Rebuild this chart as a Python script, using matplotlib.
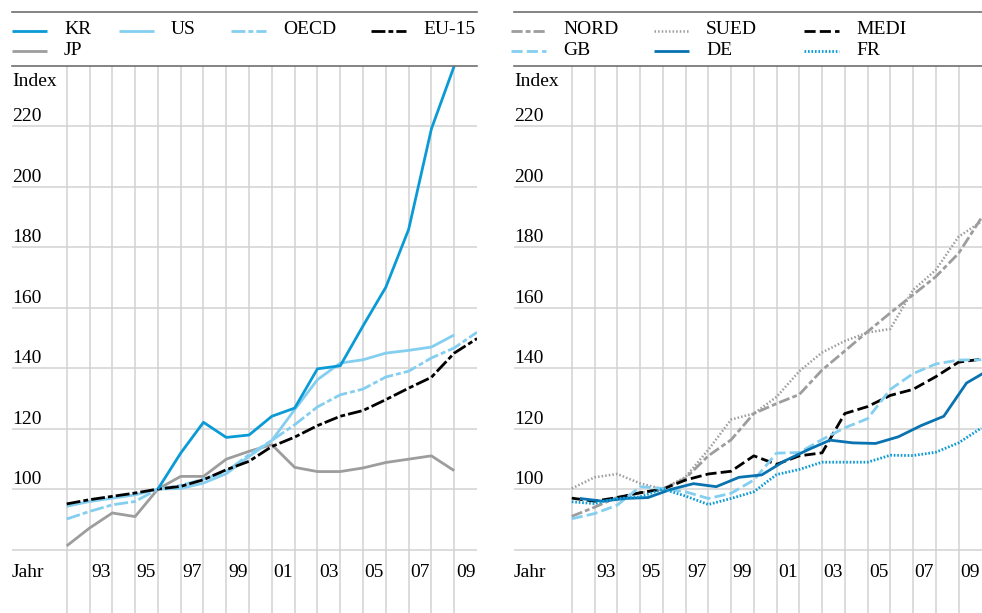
import numpy as np
import matplotlib
matplotlib.use("Agg")
import matplotlib.pyplot as plt
from matplotlib import transforms

plt.rcParams["font.family"] = ["Liberation Serif", "DejaVu Serif"]
plt.rcParams["font.size"] = 14
plt.rcParams["lines.scale_dashes"] = False

nan = np.nan
years = list(range(1991, 2010))
year_labels = [1993, 1995, 1997, 1999, 2001, 2003, 2005, 2007, 2009]
y_labels = [100, 120, 140, 160, 180, 200, 220]

# left panel
kr = [nan, nan, nan, nan, 100, 111.9, 122.1, 117.1, 117.9, 124.1, 126.8, 139.8,
      140.8, 154.0, 166.8, 185.9, 219.2, 240.0, nan]
us = [94.3, 95.9, 97.0, 98.1, 100, 100.2, 102.0, 105.1, 110.8, 116.1, 126.3, 136.2,
      141.7, 142.8, 145.0, 145.9, 147.0, 151.0, nan]
oecd = [90.1, 92.6, 94.8, 95.9, 100, 101.2, 103.3, 105.8, 111.4, 116.1, 121.3, 127.2,
        131.2, 133.1, 137.1, 139.0, 143.4, 146.7, 151.9]
eu15 = [95.1, 96.5, 97.6, 98.7, 100, 100.9, 103.1, 106.4, 109.2, 114.1, 117.2, 121.0,
        124.1, 126.0, 129.6, 133.4, 137.0, 145.0, 149.8]
jp = [81.2, 87.1, 92.1, 90.9, 100, 104.2, 104.2, 109.9, 112.5, 114.7, 107.2, 105.8,
      105.8, 107.0, 108.8, 109.9, 111.0, 106.1, nan]

# right panel
nord = [91.0, 94.0, 97.3, 98.7, 100, 103.6, 111.0, 116.3, 125.0, 128.3, 131.3, 139.4,
        145.7, 152.1, 158.3, 164.3, 170.3, 178.0, 189.7]
sued = [100.2, 103.9, 105.0, 101.9, 100, 104.0, 113.0, 123.0, 125.0, 130.5, 139.0, 145.2,
        149.0, 151.8, 153.0, 165.9, 172.5, 183.5, 188.5]
medi = [97.0, 96.0, 97.2, 98.8, 100, 103.0, 105.0, 105.9, 111.0, 108.2, 111.0, 112.0,
        125.0, 127.3, 131.0, 133.0, 137.2, 142.0, 143.0]
gb = [90.2, 91.9, 94.7, 100.8, 100.2, 99.1, 96.9, 98.6, 103.0, 111.9, 112.1, 116.4,
      120.3, 123.3, 133.0, 138.2, 141.4, 142.7, 142.8]
de = [96.9, 96.0, 96.9, 97.2, 99.9, 101.8, 100.8, 103.9, 104.7, 109.3, 112.9, 116.2,
      115.3, 115.1, 117.3, 121.0, 124.1, 135.1, 139.5]
fr = [95.8, 95.2, 96.9, 97.4, 100, 97.7, 94.9, 96.9, 99.1, 104.8, 106.5, 108.9,
      108.9, 108.9, 111.2, 111.1, 112.2, 115.3, 120.2]
de_shift = 0.35  # DE points sit a bit right of the year lines

BLUE = "#0a9bd6"
LIGHT = "#84cef0"
DARK = "#0873b0"
GREY = "#9d9d9d"

W, H = 982, 613
fig = plt.figure(figsize=(W / 100, H / 100), dpi=100)
ax1 = fig.add_axes([12 / W, 0, 465 / W, 547 / H])
ax2 = fig.add_axes([514 / W, 0, 468 / W, 547 / H])


def setup(ax, x0, x1):
    ax.set_xlim(x0, x1)
    ax.set_ylim(59, 240)
    ax.set_xticks(range(1991, 2009))
    ax.set_yticks(range(80, 221, 20))
    ax.grid(True, color="#d2d2d2", lw=1.1)
    ax.set_axisbelow(True)
    ax.tick_params(length=0, labelbottom=False, labelleft=False)
    for s in ["left", "right", "bottom"]:
        ax.spines[s].set_visible(False)
    ax.spines["top"].set_color("#6e6e6e")
    ax.spines["top"].set_linewidth(1.2)
    tr = transforms.blended_transform_factory(ax.transAxes, ax.transData)
    ax.text(0, 233.4, "Index", transform=tr, va="baseline", ha="left")
    for v in y_labels:
        ax.text(0, v + 1.65, str(v), transform=tr, va="baseline", ha="left")
    ax.text(0, 71, "Jahr", transform=tr, va="baseline", ha="left")
    for y in year_labels:
        ax.text(y - 0.5, 71, f"{y % 100:02d}", ha="center", va="baseline")
    # line above legend
    ax.plot([0, 1], [1 + 54 / 547, 1 + 54 / 547], transform=ax.transAxes,
            color="#6e6e6e", lw=1.2, clip_on=False)


setup(ax1, 1988.6, 2009.0)
setup(ax2, 1988.46, 2009.03)

left_series = [
    ("KR", kr, dict(color=BLUE, lw=2.0)),
    ("US", us, dict(color=LIGHT, lw=2.0)),
    ("OECD", oecd, dict(color=LIGHT, lw=2.0, dashes=(10, 2.2, 3.5, 2.2))),
    ("EU-15", eu15, dict(color="black", lw=2.0, dashes=(10, 2.2, 3.5, 2.2))),
    ("JP", jp, dict(color=GREY, lw=2.0)),
]
right_series = [
    ("NORD", nord, dict(color=GREY, lw=2.0, dashes=(8, 2.2, 3.5, 2.2))),
    ("SUED", sued, dict(color=GREY, lw=1.8, dashes=(1.1, 1.5))),
    ("MEDI", medi, dict(color="black", lw=2.0, dashes=(8, 3))),
    ("GB", gb, dict(color=LIGHT, lw=2.0, dashes=(8, 3))),
    ("DE", de, dict(color=DARK, lw=2.0)),
    ("FR", fr, dict(color=BLUE, lw=2.0, dashes=(1.2, 1.3))),
]

draw_order_left = ["JP", "OECD", "US", "EU-15", "KR"]
for name in draw_order_left:
    lab, vals, st = next(s for s in left_series if s[0] == name)
    ax1.plot(years, vals, solid_capstyle="butt", **st)

for lab, vals, st in right_series:
    xs = [y + de_shift for y in years] if lab == "DE" else years
    ax2.plot(xs, vals, solid_capstyle="butt", **st)

# legends (handle start x in pixels, row)
left_leg = [("KR", 12, 0), ("US", 119, 0), ("OECD", 231, 0), ("EU-15", 371, 0), ("JP", 12, 1)]
right_leg = [("NORD", 511, 0), ("SUED", 654, 0), ("MEDI", 804, 0),
             ("GB", 511, 1), ("DE", 654, 1), ("FR", 804, 1)]
rows_line = [30.7, 50.7]
rows_text = [34.5, 54.8]


def draw_legend(items, series):
    styles = {s[0]: s[2] for s in series}
    for lab, hx, r in items:
        yl = 1 - rows_line[r] / H
        fig.add_artist(plt.Line2D([hx / W, (hx + 35) / W], [yl, yl],
                                  transform=fig.transFigure, solid_capstyle="butt",
                                  **styles[lab]))
        fig.text((hx + 52) / W, 1 - rows_text[r] / H, lab, va="baseline", ha="left")


draw_legend(left_leg, left_series)
draw_legend(right_leg, right_series)

fig.savefig("out.png", dpi=100)
